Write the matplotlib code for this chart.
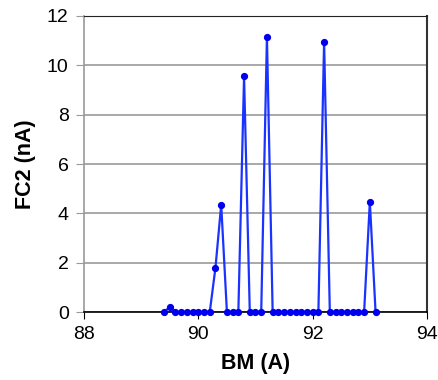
import numpy as np
import matplotlib.pyplot as plt

plt.rcParams['font.family'] = ['Liberation Sans', 'DejaVu Sans']

# BM current (A) and FC2 reading (nA)
bm = [89.4, 89.5, 89.6, 89.7, 89.8, 89.9, 90.0, 90.1, 90.2, 90.3,
      90.4, 90.5, 90.6, 90.7, 90.8, 90.9, 91.0, 91.1, 91.2, 91.3,
      91.4, 91.5, 91.6, 91.7, 91.8, 91.9, 92.0, 92.1, 92.2, 92.3,
      92.4, 92.5, 92.6, 92.7, 92.8, 92.9, 93.0, 93.1]
fc2 = [0, 0.2, 0, 0, 0, 0, 0, 0, 0, 1.8,
       4.35, 0, 0, 0, 9.55, 0, 0, 0, 11.15, 0,
       0, 0, 0, 0, 0, 0, 0, 0, 10.95, 0,
       0, 0, 0, 0, 0, 0, 4.47, 0]

fig = plt.figure(figsize=(4.39, 3.8), dpi=100)
ax = fig.add_axes([0.1913, 0.1789, 0.9727 - 0.1913, 0.9579 - 0.1789])

ax.plot(bm, fc2, color='#1a33ff', linewidth=1.6, marker='o',
        markersize=4.2, markerfacecolor='#0000ee', markeredgecolor='#0000ee',
        zorder=3, clip_on=False)

ax.set_xlim(88, 94)
ax.set_ylim(0, 12)
ax.set_xticks(np.arange(88, 95, 2))
ax.set_yticks(np.arange(0, 13, 2))
ax.yaxis.grid(True, color='#999999', linewidth=1.2)
ax.set_axisbelow(True)

ax.spines['left'].set_color('#999999')
ax.spines['left'].set_linewidth(1.2)
ax.spines['top'].set_color('#222222')
ax.spines['right'].set_color('#333333')
ax.spines['right'].set_linewidth(1.5)
ax.spines['bottom'].set_color('black')
ax.spines['bottom'].set_linewidth(1.2)

ax.tick_params(axis='y', direction='out', length=6, color='#999999',
               labelsize=14, pad=5)
ax.tick_params(axis='x', direction='out', length=5, color='black',
               labelsize=14, pad=5)

ax.set_xlabel('BM (A)', fontsize=15.5, fontweight='bold', labelpad=7)
ax.set_ylabel('FC2 (nA)', fontsize=15.5, fontweight='bold', labelpad=8)

fig.savefig('out.png', dpi=100)
